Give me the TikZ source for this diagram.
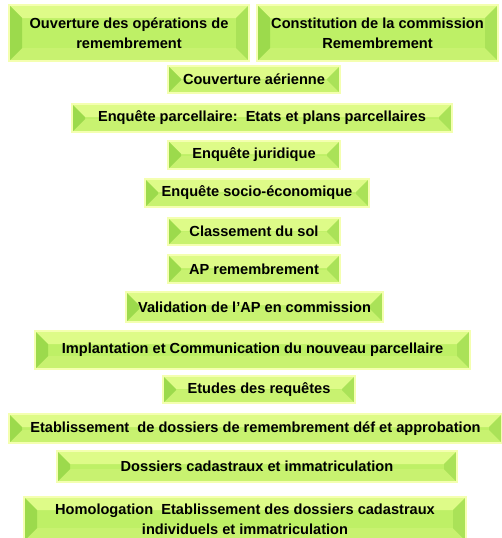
\documentclass[tikz,border=0pt]{standalone}
\usepackage{fontspec}
\setmainfont{Liberation Sans}
\usetikzlibrary{calc}
\definecolor{vertmilieu}{RGB}{190,240,102}
\definecolor{verthaut}{RGB}{222,251,136}
\definecolor{vertbas}{RGB}{200,242,112}
\definecolor{vertgauche}{RGB}{156,218,76}
\definecolor{vertdroite}{RGB}{170,226,88}
\definecolor{halo}{RGB}{244,255,176}

\tikzset{
  etape/.style 2 args={inner sep=0pt, align=center, font=\fontsize{14.6}{20}\selectfont\bfseries,
    minimum width=#1, minimum height=#2, fill=vertmilieu, draw=halo, line width=1.6pt,
    path picture={
      \path (path picture bounding box.south west) coordinate (sw)
            (path picture bounding box.north east) coordinate (ne);
      \fill[verthaut] (sw|-ne) -- (ne) -- ($(ne)+(-13pt,-13pt)$) -- ($(sw|-ne)+(13pt,-13pt)$) -- cycle;
      \fill[vertbas] (sw) -- (sw-|ne) -- ($(sw-|ne)+(-13pt,13pt)$) -- ($(sw)+(13pt,13pt)$) -- cycle;
      \fill[vertgauche] (sw) -- (sw|-ne) -- ($(sw|-ne)+(13pt,-13pt)$) -- ($(sw)+(13pt,13pt)$) -- cycle;
      \fill[vertdroite] (ne) -- (sw-|ne) -- ($(sw-|ne)+(-13pt,13pt)$) -- ($(ne)+(-13pt,-13pt)$) -- cycle;
    }}
}

\begin{document}
\begin{tikzpicture}[x=1pt, y=-1pt]

  \useasboundingbox (0,0) rectangle (502,538);

  % deux etapes de depart
  \node[etape={240pt}{56pt}] (ouverture) at (129,33) {Ouverture des opérations de\\remembrement};
  \node[etape={241pt}{56pt}] (constitution) at (377.5,33) {Constitution de la commission\\Remembrement};

  % enquetes
  \node[etape={172pt}{27pt}] (couverture) at (254,79.5) {Couverture aérienne};
  \node[etape={380pt}{28pt}] (parcellaire) at (262,118) {Enquête parcellaire:\ \ Etats et plans parcellaires};
  \node[etape={172pt}{28pt}] (juridique) at (254,155) {Enquête juridique};
  \node[etape={224pt}{28pt}] (socio) at (257,193) {Enquête socio-économique};
  \node[etape={172pt}{27pt}] (classement) at (254,231.5) {Classement du sol};

  % avant-projet
  \node[etape={172pt}{28pt}] (apremb) at (254,269) {AP remembrement};
  \node[etape={257pt}{30pt}] (validation) at (254.5,307) {Validation de l’AP en commission};
  \node[etape={435pt}{38pt}] (implantation) at (252.5,350) {Implantation et Communication du nouveau parcellaire};
  \node[etape={192pt}{27pt}] (requetes) at (259,389.5) {Etudes des requêtes};

  % dossiers
  \node[etape={493pt}{29pt}] (etablissement) at (255.5,428.5) {Etablissement\ \ de dossiers de remembrement déf et approbation};
  \node[etape={400pt}{31pt}] (dossiers) at (257,466.5) {Dossiers cadastraux et immatriculation};
  \node[etape={442pt}{44pt}] (homologation) at (245,519) {Homologation\ \ Etablissement des dossiers cadastraux\\individuels et immatriculation};

\end{tikzpicture}
\end{document}
